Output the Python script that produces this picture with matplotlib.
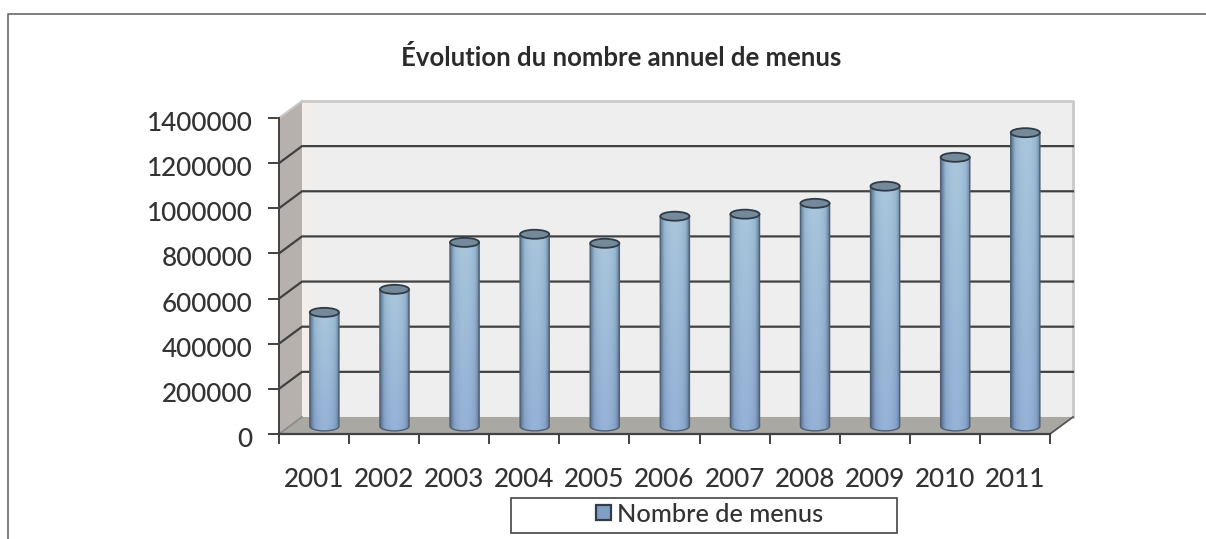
import numpy as np
import matplotlib
matplotlib.use('Agg')
import matplotlib.pyplot as plt
import matplotlib.transforms as mtrans
from matplotlib.patches import Polygon, Ellipse, Rectangle
from matplotlib.path import Path
from matplotlib.patches import PathPatch
from matplotlib.colors import LinearSegmentedColormap

plt.rcParams['font.family'] = ['Lato', 'DejaVu Sans']

years = ['2001', '2002', '2003', '2004', '2005', '2006', '2007', '2008', '2009', '2010', '2011']
menus = [505000, 607000, 815000, 851000, 811000, 931000, 940000, 988000, 1064000, 1192000, 1301000]
y_ticks = [0, 200000, 400000, 600000, 800000, 1000000, 1200000, 1400000]

title = 'Évolution du nombre annuel de menus'
legend_label = 'Nombre de menus'

W, H = 1206, 539
TEXT = '#333333'
LINE = '#414141'

# front plane of the 3d box, in pixels
left, right, top, bottom = 279, 1050, 118, 434

# depth of the box, in data units
depth_x = 23 / 70.1
depth_y = 17 / 45.1 * 200000
bar_depth = 0.45
bar_half = 0.208
cap_h = 20000

##############################################################

fig = plt.figure(figsize=(W / 100, H / 100), dpi=100, facecolor='white')
ax = fig.add_axes([left / W, 1 - bottom / H, (right - left) / W, (bottom - top) / H])
ax.patch.set_visible(False)
for s in ax.spines.values():
    s.set_visible(False)

n = len(years)
ymax = y_ticks[-1]


def poly(pts, **kw):
    ax.add_patch(Polygon(pts, closed=True, clip_on=False, **kw))


# walls and floor
poly([(0, 0), (depth_x, depth_y), (depth_x, ymax + depth_y), (0, ymax)], fc='#b6b1ac', ec='none', zorder=1)
poly([(depth_x, depth_y), (n + depth_x, depth_y), (n + depth_x, ymax + depth_y), (depth_x, ymax + depth_y)],
     fc='#eeeeee', ec='none', zorder=1)
poly([(depth_x, depth_y), (depth_x + 0.14, depth_y), (depth_x + 0.14, ymax + depth_y), (depth_x, ymax + depth_y)],
     fc='#f3eeea', ec='none', zorder=1)
poly([(0, 0), (n, 0), (n + depth_x, depth_y), (depth_x, depth_y)], fc='#a9a8a3', ec='none', zorder=1.5)

# box outline
ax.plot([depth_x, n + depth_x, n + depth_x], [ymax + depth_y, ymax + depth_y, depth_y], color='#c9c9c9', lw=2,
        clip_on=False, zorder=1.6)
ax.plot([0, depth_x], [ymax, ymax + depth_y], color='#c9c9c9', lw=1.5, clip_on=False, zorder=1.6)
ax.plot([n, n + depth_x], [0, depth_y], color='#555555', lw=1.3, clip_on=False, zorder=1.6)

# gridlines
for v in y_ticks[1:-1]:
    ax.plot([0, depth_x, n + depth_x], [v, v + depth_y, v + depth_y], color=LINE, lw=1.6, clip_on=False, zorder=2)
ax.plot([0, depth_x], [0, depth_y], color='#8a8a86', lw=1.2, clip_on=False, zorder=2)

# cylinder shading, dark on the sides, lighter in the middle
profile = np.array([0.0, 0.3, 0.55, 0.75, 0.9, 0.97, 1.0, 0.97, 0.9, 0.75, 0.55, 0.3, 0.0])
cmap = LinearSegmentedColormap.from_list('cyl', ['#5b7389', '#97b7d0', '#a9c6dc'])
cmap_low = LinearSegmentedColormap.from_list('cyl2', ['#566b8c', '#85a1c8', '#96b2d6'])

for i, v in enumerate(menus):
    cx = i + 0.5 + depth_x * bar_depth
    y0 = depth_y * bar_depth
    y1 = v + y0
    prof = np.interp(np.linspace(0, 1, 60), np.linspace(0, 1, len(profile)), profile)
    img = np.zeros((40, 60, 4))
    for r, t in enumerate(np.linspace(0, 1, 40)):
        img[r] = (1 - t) * cmap_low(prof) + t * cmap(prof)
    im = ax.imshow(img, extent=(cx - bar_half, cx + bar_half, y0 - cap_h, y1), origin='lower', aspect='auto',
                   zorder=3, clip_on=True, interpolation='bilinear')
    # body outline: flat sides, rounded base
    k = 0.5523
    verts = [(cx - bar_half, y1), (cx - bar_half, y0),
             (cx - bar_half, y0 - k * cap_h), (cx - k * bar_half, y0 - cap_h), (cx, y0 - cap_h),
             (cx + k * bar_half, y0 - cap_h), (cx + bar_half, y0 - k * cap_h), (cx + bar_half, y0),
             (cx + bar_half, y1), (cx - bar_half, y1)]
    codes = [Path.MOVETO, Path.LINETO, Path.CURVE4, Path.CURVE4, Path.CURVE4, Path.CURVE4, Path.CURVE4, Path.CURVE4,
             Path.LINETO, Path.CLOSEPOLY]
    body = PathPatch(Path(verts, codes), fc='none', ec='#4e6073', lw=1.0, clip_on=False, zorder=3.1)
    ax.add_patch(body)
    im.set_clip_path(body)
    ax.add_patch(Ellipse((cx, y1), 2 * bar_half, 2 * cap_h, fc='#74899a', ec='#2f3c48', lw=1.3, clip_on=False,
                         zorder=3.2))

ax.set_xlim(0, n)
ax.set_ylim(0, ymax)

# axes
ax.spines['left'].set_visible(True)
ax.spines['bottom'].set_visible(True)
ax.spines['left'].set_color(LINE)
ax.spines['bottom'].set_color(LINE)
ax.spines['left'].set_linewidth(1.4)
ax.spines['bottom'].set_linewidth(1.6)
ax.spines['left'].set_zorder(4)
ax.spines['bottom'].set_zorder(4)

ax.set_yticks(y_ticks)
ax.set_yticklabels([str(v) for v in y_ticks], fontsize=18.7, color=TEXT, fontweight='medium')
ax.set_xticks(np.arange(n + 1))
ax.set_xticklabels([])
ax.set_xticks(np.arange(n) + 0.5, minor=True)
ax.set_xticklabels(years, minor=True, fontsize=18.7, color=TEXT, fontweight='medium')
ax.tick_params(axis='y', length=8, width=1.4, color=LINE, pad=11)
ax.tick_params(axis='x', which='major', length=7, width=1.4, color=LINE)
ax.tick_params(axis='x', which='minor', length=0, pad=24)

# the value labels sit a little below their ticks
shift = mtrans.ScaledTranslation(0, -3 / 100, fig.dpi_scale_trans)
for lab in ax.get_yticklabels():
    lab.set_transform(lab.get_transform() + shift)

# title
fig.text(621 / W, 1 - 58 / H, title, ha='center', va='center', fontsize=18.5, fontweight='bold', color='#2b2b2b')

# legend box
fig.add_artist(Rectangle((511 / W, 1 - 533 / H), 386 / W, 35 / H, transform=fig.transFigure, fc='white',
                         ec='#444444', lw=1.2))
fig.add_artist(Rectangle((596 / W, 1 - 520 / H), 15 / W, 15 / H, transform=fig.transFigure, fc='#7f9fc4',
                         ec='#333d4a', lw=1.6))
fig.text(617 / W, 1 - 515 / H, legend_label, ha='left', va='center', fontsize=18.3, color=TEXT, fontweight='medium')

# outer frame, cut off on the right and at the bottom
fig.add_artist(plt.Line2D([1.0, 8 / W, 8 / W], [1 - 14 / H, 1 - 14 / H, 0], transform=fig.transFigure,
                          color='#6a6a6a', lw=1.2))

plt.savefig('out.png', dpi=100)
